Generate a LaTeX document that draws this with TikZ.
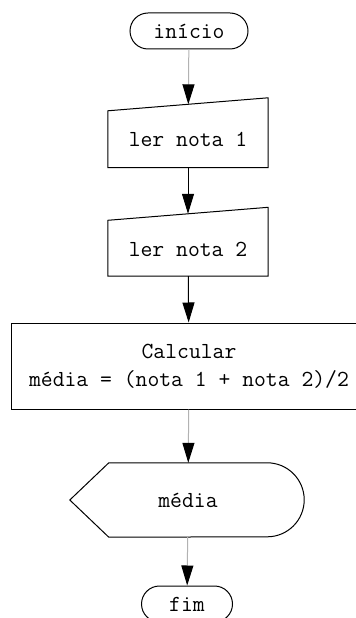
\documentclass[tikz,border=0pt]{standalone}
\usetikzlibrary{arrows.meta}
\begin{document}
\begin{tikzpicture}[x=1bp, y=-1bp,
    every node/.style={font=\ttfamily\fontsize{23bp}{28bp}\selectfont, inner sep=0pt},
    terminal/.style={draw, line width=1bp, rounded corners=18bp, minimum width=91bp, minimum height=36bp},
    block/.style={minimum width=160bp, text height=22bp, text depth=0bp},
    flow/.style={line width=1bp, -{Triangle[length=20bp, width=12bp, color=black]}},
    faint/.style={flow, draw=black!30}]
  \useasboundingbox (0, 0) rectangle (355, 618);

  % Start
  \node[terminal, minimum width=118bp] (inicio) at (189, 31) {início};
  % Inputs
  \node[block, minimum height=63bp] (ler1) at (188, 136) {ler nota 1};
  \node[block, minimum height=62bp] (ler2) at (188, 245) {ler nota 2};
  % Process
  \node[draw, line width=1bp, minimum width=354bp, minimum height=86bp, align=center]
    (calc) at (189, 366) {Calcular\\média = (nota 1 + nota 2)/2};
  % Output
  \node[minimum width=158bp, minimum height=74bp] (media) at (188, 500) {média};
  % End
  \node[terminal] (fim) at (187, 604) {fim};

  % Manual input outlines
  \foreach \n in {ler1, ler2}
    \draw[line width=1bp] (\n.south west) -- (\n.south east)
      -- ([yshift=6.5bp]\n.north east) -- ([yshift=-6.5bp]\n.north west) -- cycle;
  % Display outline
  \draw[line width=1bp] (media.north west) -- (media.north east)
    arc [start angle=90, end angle=-90, radius=37bp]
    -- (media.south west) -- ([xshift=-39bp]media.west) -- cycle;

  % Flow
  \draw[faint] (inicio) -- (ler1);
  \draw[flow] (ler1) -- (ler2);
  \draw[flow] (ler2) -- (calc);
  \draw[faint] (calc) -- (media);
  \draw[faint] (media) -- (fim);
\end{tikzpicture}
\end{document}
